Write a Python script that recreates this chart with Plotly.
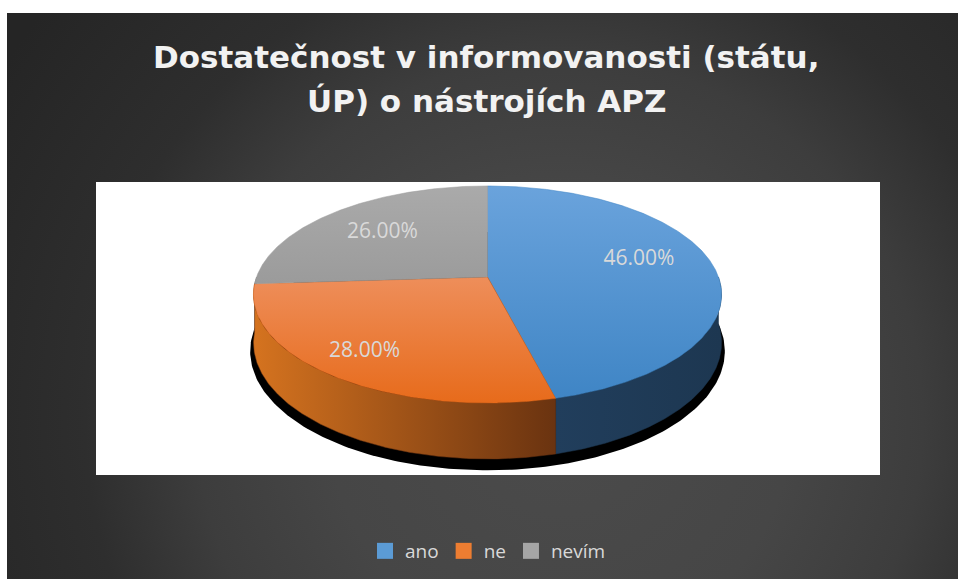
import base64
import numpy as np
import plotly.graph_objects as go

# ---------------- data ----------------
categories = ["ano", "ne", "nevím"]
shares = [46.0, 28.0, 26.0]
title_lines = ["Dostatečnost v informovanosti (státu,", "ÚP) o nástrojích APZ"]

# ---------------- style ----------------
legend_colors = ["#5b9bd5", "#ed7d31", "#a5a5a5"]
top_colors = [("#6aa3dc", "#3f85c5"), ("#ee8e5a", "#e76b1b"), ("#aaaaaa", "#9b9b9b")]
side_colors = [("#213e5c", "#1d3751"), ("#d5731f", "#6a3310"), ("#858585", "#707070")]
label_frac = [0.67, 0.81, 0.67]
label_dy = [-8, -3, 1]

W, H = 958, 579
CX, CY = 487.5, 277.0      # pie centre on screen
RX, RY = 231.0, 105.7      # projected radii
K = 0.161                  # perspective strength
DEPTH = 47.0               # thickness of the pie


def proj(theta_deg, f=1.0, drop=0.0, scale=1.0):
    t = np.radians(theta_deg)
    u = f * np.sin(t)
    v = f * np.cos(t)
    s = 1.0 / (1.0 + K * v)
    x = CX + RX * scale * u * s
    y = CY - RY * scale * v * s + drop * s
    return x, y


total = sum(shares)
bounds = np.concatenate([[0.0], np.cumsum(shares) / total * 360.0])

fig = go.Figure()

# shadow under the pie
th = np.linspace(0, 360, 361)
sx, sy = proj(th, drop=DEPTH + 8, scale=1.014)
fig.add_trace(go.Scatter(x=sx, y=sy, fill="toself", mode="lines", line=dict(width=0),
                         fillcolor="#000000", hoverinfo="skip", showlegend=False))

# side walls (front half only)
for i in [0, 2, 1]:
    a, b = max(bounds[i], 90.0), min(bounds[i + 1], 270.0)
    if b <= a:
        continue
    th = np.linspace(a, b, 200)
    xt, yt = proj(th)
    xb, yb = proj(th[::-1], drop=DEPTH)
    xs = np.concatenate([xt, xb, xt[:1]])
    ys = np.concatenate([yt, yb, yt[:1]])
    c0, c1 = side_colors[i]
    fig.add_trace(go.Scatter(x=xs, y=ys, fill="toself", mode="lines",
                             line=dict(width=0.5, color=c1),
                             fillgradient=dict(type="horizontal",
                                               colorscale=[[0, c0], [1, c1]]),
                             hoverinfo="skip", showlegend=False))

# top faces (light at the back, darker at the front)
for i in range(len(shares)):
    a, b = bounds[i], bounds[i + 1]
    th = np.linspace(a, b, 300)
    xa, ya = proj(th)
    xs = np.concatenate([[CX], xa, [CX]])
    ys = np.concatenate([[CY], ya, [CY]])
    c_back, c_front = top_colors[i]
    fig.add_trace(go.Scatter(x=xs, y=ys, fill="toself", mode="lines",
                             line=dict(width=0.5, color=c_front),
                             fillgradient=dict(type="vertical",
                                               colorscale=[[0, c_front], [1, c_back]]),
                             hoverinfo="skip", showlegend=False))

# data labels
lx, ly, lt = [], [], []
for i, v in enumerate(shares):
    mid = (bounds[i] + bounds[i + 1]) / 2
    x, y = proj(mid, f=label_frac[i])
    lx.append(x)
    ly.append(y + label_dy[i])
    lt.append(f"{v / total * 100:.2f}%")
fig.add_trace(go.Scatter(x=lx, y=ly, text=lt, mode="text",
                         textfont=dict(family="Open Sans", size=21, color="#d9d9d9"),
                         hoverinfo="skip", showlegend=False))

# legend entries
for name, col in zip(categories, legend_colors):
    fig.add_trace(go.Scatter(x=[None], y=[None], mode="markers", name=name,
                             marker=dict(symbol="square", size=16, color=col)))

# background radial gradient (chart area)
bx0, by0 = 7, 13
bw, bh = W - bx0, H - by0
svg = (
    f"<svg xmlns='http://www.w3.org/2000/svg' width='{bw}' height='{bh}' "
    f"viewBox='0 0 {bw} {bh}' preserveAspectRatio='none'>"
    "<defs><radialGradient id='g' gradientUnits='userSpaceOnUse' "
    f"cx='{560 - bx0}' cy='{420 - by0}' r='660'>"
    "<stop offset='0' stop-color='#4b4b4b'/>"
    "<stop offset='0.35' stop-color='#464646'/>"
    "<stop offset='0.55' stop-color='#3d3d3d'/>"
    "<stop offset='0.72' stop-color='#2e2e2e'/>"
    "<stop offset='1' stop-color='#252525'/>"
    "</radialGradient></defs>"
    f"<rect width='{bw}' height='{bh}' fill='url(#g)'/></svg>"
)
src = "data:image/svg+xml;base64," + base64.b64encode(svg.encode()).decode()

title_font = dict(family="DejaVu Sans", size=31, color="#f2f2f2")

fig.update_layout(
    width=W, height=H,
    margin=dict(l=0, r=0, t=0, b=0),
    paper_bgcolor="#ffffff",
    plot_bgcolor="rgba(0,0,0,0)",
    xaxis=dict(range=[0, W], visible=False, fixedrange=True),
    yaxis=dict(range=[H, 0], visible=False, fixedrange=True),
    showlegend=True,
    legend=dict(orientation="h", x=488 / W, xanchor="center", y=1 - 551 / H,
                yanchor="middle", bgcolor="rgba(0,0,0,0)",
                font=dict(family="Open Sans", size=19, color="#d9d9d9"),
                itemclick=False, itemdoubleclick=False),
    hovermode=False,
    images=[dict(source=src, xref="paper", yref="paper",
                 x=bx0 / W, y=1 - by0 / H, sizex=bw / W, sizey=bh / H,
                 xanchor="left", yanchor="top", sizing="stretch", layer="below")],
    shapes=[dict(type="rect", xref="x", yref="y", x0=96, x1=880, y0=182, y1=475,
                 fillcolor="#ffffff", line=dict(width=0), layer="below")],
    annotations=[
        dict(text=f"<b>{title_lines[0]}</b>", x=486, y=57, xref="x", yref="y",
             showarrow=False, xanchor="center", yanchor="middle", font=title_font),
        dict(text=f"<b>{title_lines[1]}</b>", x=486, y=101, xref="x", yref="y",
             showarrow=False, xanchor="center", yanchor="middle", font=title_font),
    ],
)

fig.write_html(
    "out.html",
    config={"displayModeBar": False, "staticPlot": True},
    post_script="document.body.style.margin='0';"
                "document.documentElement.style.overflow='hidden';",
)
